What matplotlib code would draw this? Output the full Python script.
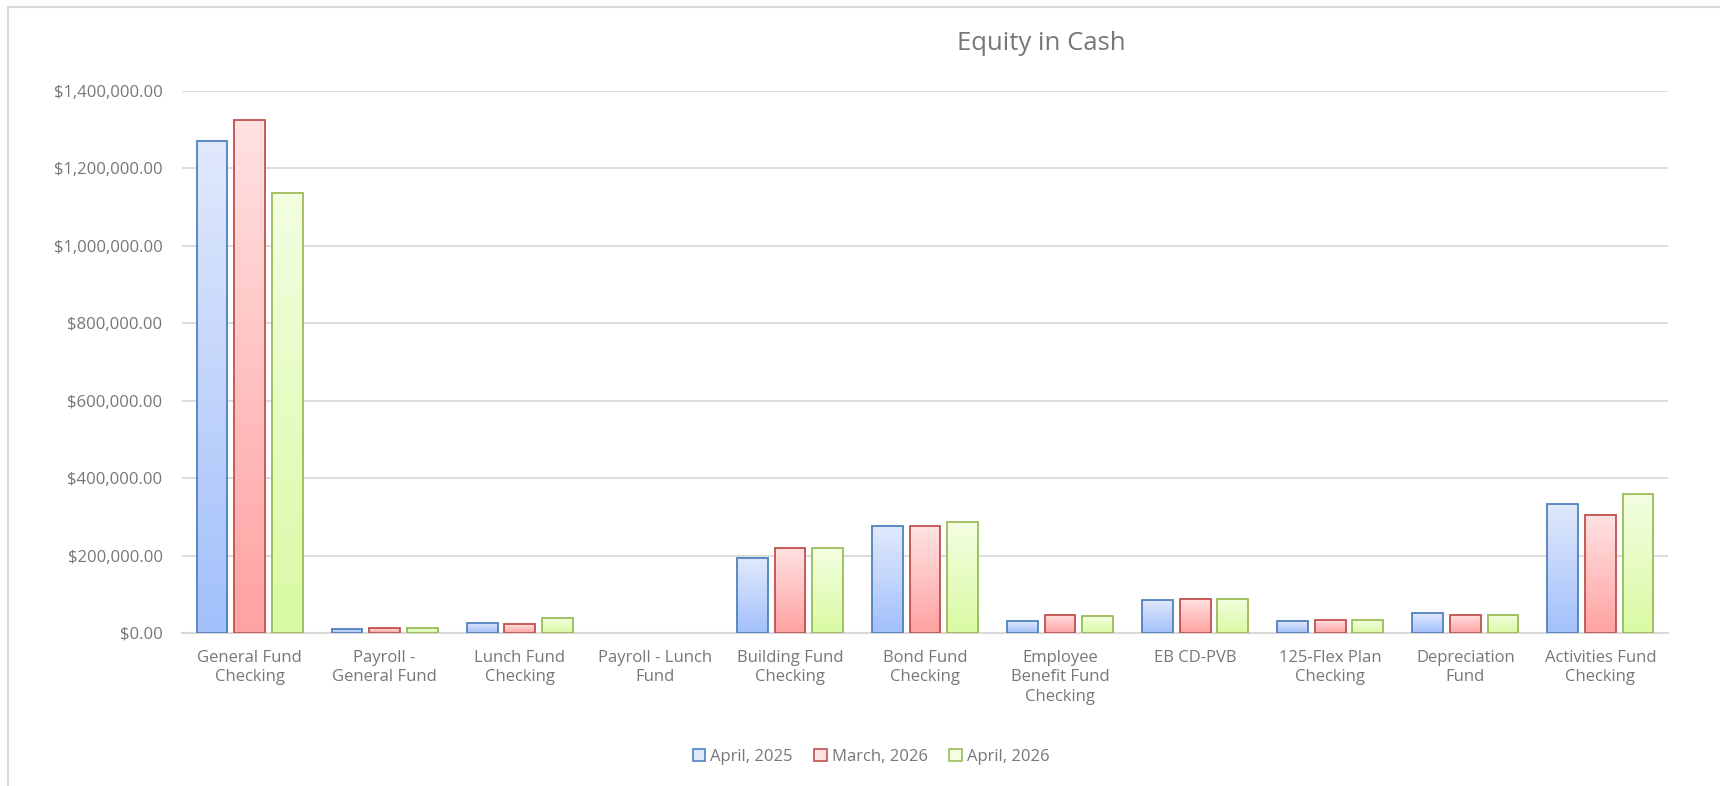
import numpy as np
import matplotlib
matplotlib.use('Agg')
import matplotlib.pyplot as plt
from matplotlib.patches import Patch, Rectangle
from matplotlib.colors import LinearSegmentedColormap
from matplotlib.ticker import FuncFormatter

plt.rcParams['font.family'] = ['Open Sans', 'DejaVu Sans']

categories = [
    'General Fund\nChecking', 'Payroll -\nGeneral Fund', 'Lunch Fund\nChecking',
    'Payroll - Lunch\nFund', 'Building Fund\nChecking', 'Bond Fund\nChecking',
    'Employee\nBenefit Fund\nChecking', 'EB CD-PVB', '125-Flex Plan\nChecking',
    'Depreciation\nFund', 'Activities Fund\nChecking',
]
series_names = ['April, 2025', 'March, 2026', 'April, 2026']
april_2025 = [1272000, 11000, 26000, 0, 193500, 276000, 30000, 85000, 30000, 51600, 334000]
march_2026 = [1326000, 14000, 22000, 0, 220000, 276000, 46500, 88000, 33500, 46500, 304500]
april_2026 = [1136000, 14000, 38500, 0, 218500, 286000, 43000, 88000, 32700, 46500, 359600]
yticks = [0, 200000, 400000, 600000, 800000, 1000000, 1200000, 1400000]

# (edge, gradient top, gradient bottom)
styles = [
    ('#4F81BD', '#E1E9FC', '#A2C0FB'),
    ('#C0504D', '#FFE2E2', '#FFA2A2'),
    ('#9BBB59', '#F3FEE2', '#D9FAA2'),
]
TEXT = '#777777'
GRID = '#D9D9D9'

fig = plt.figure(figsize=(17.2, 7.86), dpi=100)
ax = fig.add_axes([182 / 1720, 1 - 633 / 786, (1668 - 182) / 1720, (633 - 91) / 786])

x = np.arange(len(categories))
step = 0.278
width = 0.228
grad = np.linspace(0, 1, 256).reshape(-1, 1)

for i, vals in enumerate([april_2025, march_2026, april_2026]):
    edge, top, bottom = styles[i]
    cmap = LinearSegmentedColormap.from_list(f'g{i}', [top, bottom])
    bars = ax.bar(x + (i - 1) * step, vals, width, facecolor='none',
                  edgecolor=edge, linewidth=1.3, zorder=3)
    for b in bars:
        h = b.get_height()
        if h <= 0:
            b.set_linewidth(0)  # empty account: nothing drawn
            continue
        bx = b.get_x()
        im = ax.imshow(grad, cmap=cmap, aspect='auto', origin='upper',
                       extent=[bx, bx + b.get_width(), 0, h], zorder=2)
        im.set_clip_path(b)

ax.set_xlim(-0.5, len(categories) - 0.5)
ax.set_ylim(0, 1400000)
ax.set_yticks(yticks)
ax.yaxis.set_major_formatter(FuncFormatter(lambda v, p: f'${v:,.2f}'))
ax.set_xticks(x)
ax.set_xticklabels(categories, linespacing=1.3)
ax.tick_params(axis='both', length=0, labelsize=12, colors=TEXT)
ax.tick_params(axis='y', pad=14)
ax.tick_params(axis='x', pad=12)
ax.grid(axis='y', color=GRID, linewidth=1.3, zorder=0)
ax.set_axisbelow(True)
for s in ['top', 'right', 'left']:
    ax.spines[s].set_visible(False)
ax.spines['bottom'].set_color(GRID)
ax.spines['bottom'].set_linewidth(1.5)

fig.text(1041 / 1720, 1 - 43 / 786, 'Equity in Cash', ha='center', va='center',
         fontsize=18.5, color=TEXT)

handles = [Patch(facecolor=styles[i][1], edgecolor=styles[i][0], linewidth=1.2,
                 label=series_names[i]) for i in range(3)]
fig.legend(handles=handles, loc='center', bbox_to_anchor=(871 / 1720, 1 - 757 / 786),
           ncol=3, frameon=False, fontsize=12, labelcolor=TEXT,
           handlelength=0.75, handleheight=0.75, handletextpad=0.3,
           columnspacing=1.3)

# outer chart frame (left and top edges visible in the crop)
fig.patches.append(Rectangle((8 / 1720, -0.1), 2, 1 - 7 / 786 + 0.1,
                             transform=fig.transFigure, fill=False,
                             edgecolor=GRID, linewidth=1.5))

fig.savefig('out.png', dpi=100)
